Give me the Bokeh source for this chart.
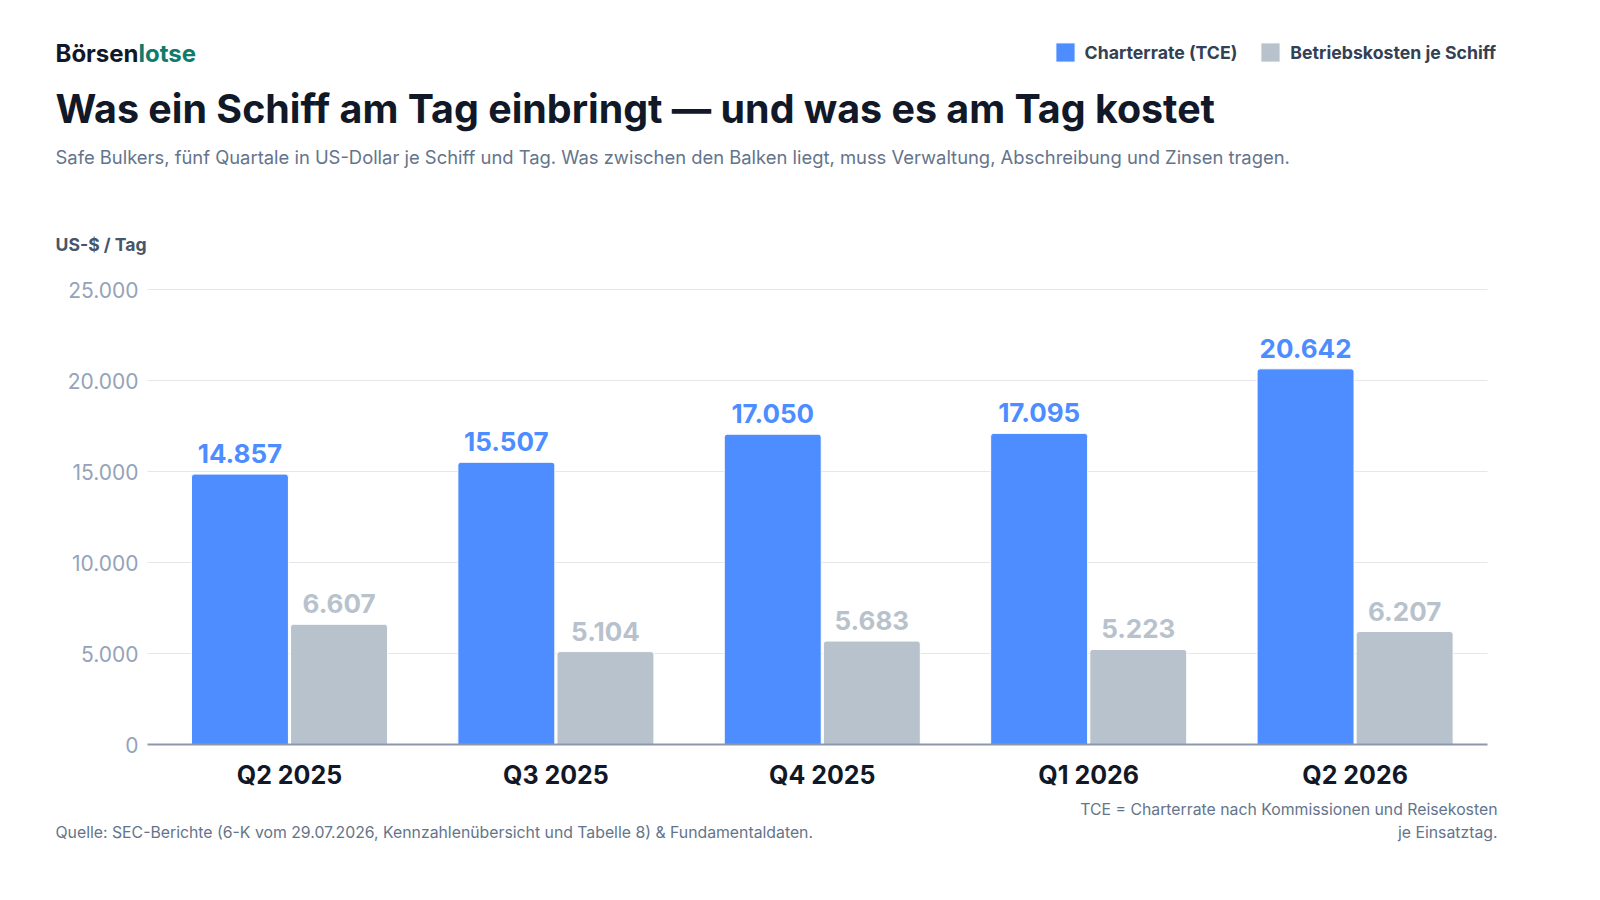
from bokeh.plotting import figure
from bokeh.models import (ColumnDataSource, Range1d, FixedTicker, Label,
                          Legend, LegendItem)
from bokeh.core.properties import value
from bokeh.embed import file_html
from bokeh.resources import INLINE

# daten (US-$ je Schiff und Tag)
quartale = ["Q2 2025", "Q3 2025", "Q4 2025", "Q1 2026", "Q2 2026"]
tce = [14857, 15507, 17050, 17095, 20642]
opex = [6607, 5104, 5683, 5223, 6207]
y_ticks = [0, 5000, 10000, 15000, 20000, 25000]
y_tick_labels = ["0", "5.000", "10.000", "15.000", "20.000", "25.000"]


def fmt(v):
    return "{:,}".format(v).replace(",", ".")


BLAU = "#4D8DFF"
GRAU = "#B8C2CC"
FONT = "Inter"

# canvas und seitenkoordinaten
W, H = 1560, 860
PX_X = 266.4          # pixel je kategorie
X0 = 297              # seiten-x der ersten kategorie
PX_Y = 455 / 25000    # pixel je dollar
Y0 = 752              # seiten-y der nulllinie
x_left = (155 - X0) / PX_X
x_right = (1495 - X0) / PX_X

idx = list(range(len(quartale)))
source = ColumnDataSource(dict(
    x_tce=[i - 0.186 for i in idx],
    x_opex=[i + 0.186 for i in idx],
    tce=tce,
    opex=opex,
    tce_lbl=[fmt(v) for v in tce],
    opex_lbl=[fmt(v) for v in opex],
))

p = figure(width=W, height=H, output_backend="svg", toolbar_location=None,
           x_range=Range1d((8 - X0) / PX_X, (8 + W - X0) / PX_X),
           y_range=Range1d((Y0 - 8 - H) / PX_Y, (Y0 - 8) / PX_Y),
           min_border=0, outline_line_color=None)
p.grid.visible = False

# gitterlinien
p.segment(x0=x_left, x1=x_right, y0=y_ticks[1:], y1=y_ticks[1:],
          line_color="#E5E7EB", line_width=1)

r_tce = p.vbar(x="x_tce", top="tce", width=0.364, source=source,
               fill_color=BLAU, line_color="white", line_width=1,
               border_radius=(3, 3, 0, 0))
r_opex = p.vbar(x="x_opex", top="opex", width=0.364, source=source,
                fill_color=GRAU, line_color="white", line_width=1,
                border_radius=(3, 3, 0, 0))

p.text(x="x_tce", y="tce", text="tce_lbl", source=source, text_align="center",
       text_baseline="bottom", y_offset=-11, text_font=value(FONT),
       text_font_style="bold", text_font_size="26px", text_color=BLAU)
p.text(x="x_opex", y="opex", text="opex_lbl", source=source, text_align="center",
       text_baseline="bottom", y_offset=-11, text_font=value(FONT),
       text_font_style="bold", text_font_size="26px", text_color=GRAU)

# achsen
p.yaxis.fixed_location = x_left
p.yaxis.bounds = (0, 25000)
p.yaxis.ticker = FixedTicker(ticks=y_ticks)
p.yaxis.major_label_overrides = dict(zip(y_ticks, y_tick_labels))
p.yaxis.axis_line_color = None
p.yaxis.major_tick_line_color = None
p.yaxis.major_tick_out = 0
p.yaxis.major_tick_in = 0
p.yaxis.minor_tick_line_color = None
p.yaxis.major_label_standoff = 9
p.yaxis.major_label_text_font = FONT
p.yaxis.major_label_text_font_size = "21px"
p.yaxis.major_label_text_color = "#94A3B8"

p.xaxis.fixed_location = 0
p.xaxis.bounds = (x_left, x_right)
p.xaxis.ticker = FixedTicker(ticks=idx)
p.xaxis.major_label_overrides = dict(zip(idx, quartale))
p.xaxis.axis_line_color = "#8C99AD"
p.xaxis.axis_line_width = 2
p.xaxis.major_tick_line_color = None
p.xaxis.major_tick_out = 0
p.xaxis.major_tick_in = 0
p.xaxis.minor_tick_line_color = None
p.xaxis.major_label_standoff = 15
p.xaxis.major_label_text_font = FONT
p.xaxis.major_label_text_font_style = "bold"
p.xaxis.major_label_text_font_size = "25px"
p.xaxis.major_label_text_color = "#111827"


def sx(px):
    return px - 8


def sy(py):
    return H - (py - 8)


# legende (bokeh zeichnet die balken-symbole mit 10 % einzug)
legend = Legend(items=[LegendItem(label="Charterrate (TCE)", renderers=[r_tce]),
                       LegendItem(label="Betriebskosten je Schiff", renderers=[r_opex])],
                location=(sx(1060.6), sy(72.4)), orientation="horizontal",
                glyph_width=24, glyph_height=24, label_height=24,
                label_standoff=8, spacing=21, padding=0, margin=0,
                border_line_color=None, background_fill_alpha=0,
                label_text_font=FONT, label_text_font_style="bold",
                label_text_font_size="17.7px", label_text_color="#334155")
p.add_layout(legend, "center")


# texte
def txt(x, y, s, size, color, style="normal", align="left"):
    p.add_layout(Label(x=sx(x), y=sy(y), x_units="screen", y_units="screen", text=s,
                       text_font=FONT, text_font_size=size, text_color=color,
                       text_font_style=style, text_align=align,
                       text_baseline="middle"))


txt(63, 61, "Börsen", "24px", "#111827", "bold")
txt(146, 61, "lotse", "24px", "#0F7B6C", "bold")
txt(63, 116, "Was ein Schiff am Tag einbringt — und was es am Tag kostet",
    "39.4px", "#111827", "bold")
txt(63, 164, "Safe Bulkers, fünf Quartale in US-Dollar je Schiff und Tag. "
    "Was zwischen den Balken liegt, muss Verwaltung, Abschreibung und Zinsen tragen.",
    "18.4px", "#64748B")
txt(63, 252, "US-$ / Tag", "17.6px", "#475569", "bold")
txt(63, 840, "Quelle: SEC-Berichte (6-K vom 29.07.2026, Kennzahlenübersicht "
    "und Tabelle 8) & Fundamentaldaten.", "15.8px", "#64748B")
txt(1505, 817, "TCE = Charterrate nach Kommissionen und Reisekosten",
    "15.8px", "#64748B", align="right")
txt(1505, 840, "je Einsatztag.", "15.8px", "#64748B", align="right")

open("out.html", "w").write(file_html(p, INLINE))
